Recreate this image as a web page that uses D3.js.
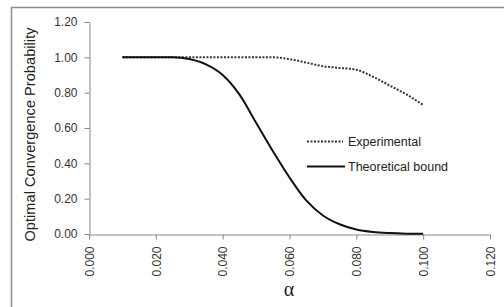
<!DOCTYPE html>
<html><head><meta charset="utf-8">
<script src="https://cdn.jsdelivr.net/npm/d3@7"></script>
<style>body{margin:0;background:#fff;} svg{display:block;}</style>
</head><body>
<script>
const alphas = [0.010,0.015,0.020,0.025,0.030,0.035,0.040,0.045,0.050,0.055,0.060,0.065,0.070,0.075,0.080,0.085,0.090,0.095,0.100];
const experimental = [1.00,1.00,1.00,1.00,1.00,1.00,1.00,1.00,1.00,1.00,0.99,0.97,0.95,0.94,0.93,0.89,0.84,0.79,0.73];
const theoretical = [1.00,1.00,1.00,1.00,0.99,0.96,0.90,0.79,0.63,0.47,0.32,0.19,0.105,0.055,0.025,0.011,0.005,0.002,0.001];
const xTicks = [0.000,0.020,0.040,0.060,0.080,0.100,0.120];
const yTicks = [0.00,0.20,0.40,0.60,0.80,1.00,1.20];
const seriesNames = ["Experimental","Theoretical bound"];

const W=504,H=307;
const svg=d3.select("body").append("svg").attr("width",W).attr("height",H);
svg.append("rect").attr("x",11.5).attr("y",7.5).attr("width",600).attr("height",400)
  .attr("fill","#fff").attr("stroke","#8c8c8c").attr("stroke-width",1.5);

const x=d3.scaleLinear().domain([0,0.12]).range([89,490]);
const y=d3.scaleLinear().domain([0,1.2]).range([234,22]);

const font="'Liberation Sans', Arial, sans-serif";
const yAxis=svg.append("g").attr("transform","translate(89.5,0)")
  .call(d3.axisLeft(y).tickValues(yTicks).tickFormat(d3.format(".2f")).tickSize(5).tickSizeOuter(0));
const xAxis=svg.append("g").attr("transform","translate(0,234.5)")
  .call(d3.axisBottom(x).tickValues(xTicks).tickFormat(d3.format(".3f")).tickSize(5).tickSizeOuter(0));
[yAxis,xAxis].forEach(g=>{
  g.select(".domain").attr("stroke","#888");
  g.selectAll(".tick line").attr("stroke","#888");
  g.selectAll("text").attr("fill","#333").style("font-family",font).style("font-size","12px");
});
yAxis.selectAll("text").attr("x",-12);
xAxis.selectAll("text").attr("transform","rotate(-90)").attr("text-anchor","end")
  .attr("x",-12).attr("y",0).attr("dy","0.35em");

const line=d3.line().x((d,i)=>x(alphas[i])).y(d=>y(d)).curve(d3.curveMonotoneX);
svg.append("path").datum(experimental).attr("d",line).attr("fill","none")
  .attr("stroke","#333").attr("stroke-width",2).attr("stroke-dasharray","2,1.5");
svg.append("path").datum(theoretical).attr("d",line).attr("fill","none")
  .attr("stroke","#111").attr("stroke-width",2);

// legend
const lg=svg.append("g");
lg.append("line").attr("x1",307).attr("x2",343).attr("y1",141.5).attr("y2",141.5)
  .attr("stroke","#333").attr("stroke-width",2).attr("stroke-dasharray","2,1.5");
lg.append("line").attr("x1",307).attr("x2",345).attr("y1",166.5).attr("y2",166.5)
  .attr("stroke","#111").attr("stroke-width",2);
lg.selectAll("text.lg").data(seriesNames).enter().append("text")
  .attr("x",348).attr("y",(d,i)=>141.5+i*25).attr("dy","0.35em")
  .style("font-family",font).style("font-size","12.5px").attr("fill","#222").text(d=>d);

svg.append("text").attr("transform","translate(35,134.5) rotate(-90)").attr("text-anchor","middle")
  .style("font-family",font).style("font-size","14.5px").attr("fill","#222")
  .attr("textLength",214).attr("lengthAdjust","spacing")
  .text("Optimal Convergence Probability");
svg.append("text").attr("x",289).attr("y",296).attr("text-anchor","middle")
  .style("font-family","'Liberation Serif', serif").style("font-size","20px").attr("fill","#222")
  .text("α");
</script>
</body></html>
